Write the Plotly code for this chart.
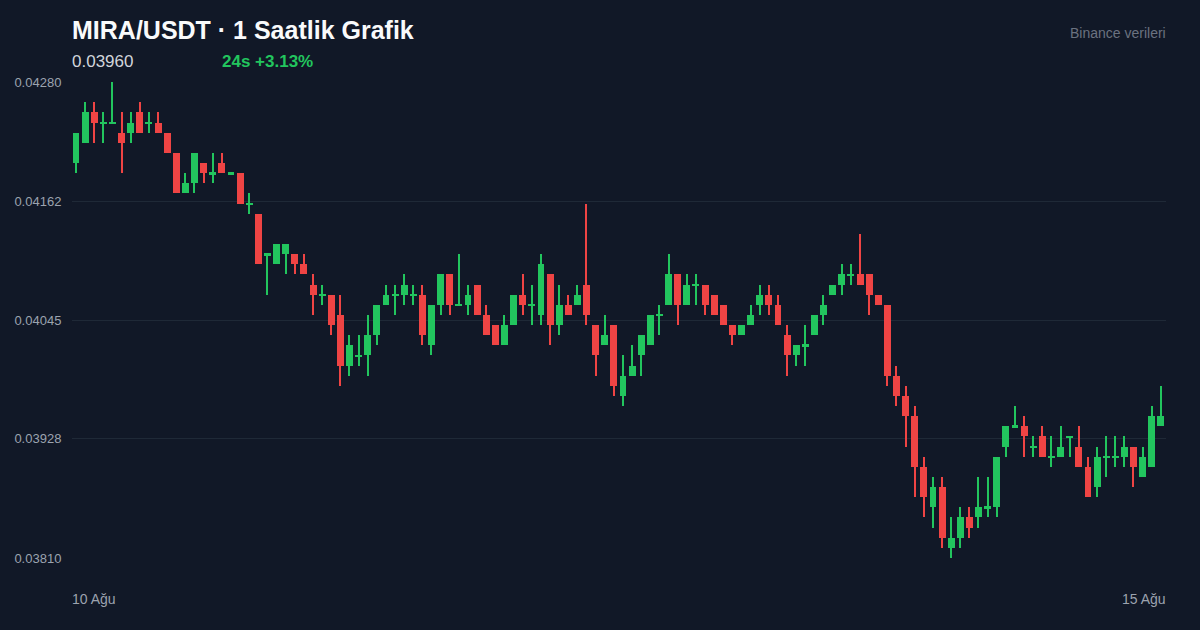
import pandas as pd
import plotly.graph_objects as go

# ---- data (1h candles, MIRA/USDT) ----
opens = [0.0420, 0.0422, 0.0425, 0.0424, 0.0424, 0.0423, 0.0423, 0.0425, 0.0424, 0.0424,
         0.0423, 0.0421, 0.0417, 0.0418, 0.0420, 0.0419, 0.0420, 0.0419, 0.0419, 0.0416,
         0.0415, 0.0411, 0.0410, 0.0411, 0.0411, 0.0410, 0.0408, 0.0407, 0.0407, 0.0405,
         0.0400, 0.0401, 0.0401, 0.0403, 0.0406, 0.0407, 0.0407, 0.0407, 0.0407, 0.0402,
         0.0406, 0.0409, 0.0406, 0.0406, 0.0408, 0.0405, 0.0404, 0.0402, 0.0404, 0.0407,
         0.0406, 0.0405, 0.0409, 0.0404, 0.0406, 0.0406, 0.0408, 0.0404, 0.0402, 0.0404,
         0.0397, 0.0399, 0.0401, 0.0402, 0.0405, 0.0406, 0.0409, 0.0406, 0.0408, 0.0408,
         0.0407, 0.0406, 0.0404, 0.0403, 0.0404, 0.0406, 0.0407, 0.0406, 0.0403, 0.0401,
         0.0402, 0.0403, 0.0405, 0.0407, 0.0408, 0.0409, 0.0409, 0.0409, 0.0407, 0.0406,
         0.0399, 0.0397, 0.0395, 0.0390, 0.0386, 0.0388, 0.0382, 0.0383, 0.0385, 0.0385,
         0.0386, 0.0386, 0.0392, 0.0394, 0.0394, 0.0392, 0.0393, 0.0391, 0.0391, 0.0393,
         0.0392, 0.0390, 0.0388, 0.0391, 0.0391, 0.0391, 0.0392, 0.0389, 0.0390, 0.0394]
highs = [0.0423, 0.0426, 0.0426, 0.0425, 0.0428, 0.0425, 0.0425, 0.0426, 0.0425, 0.0425,
         0.0423, 0.0421, 0.0419, 0.0421, 0.0420, 0.0421, 0.0421, 0.0419, 0.0419, 0.0417,
         0.0415, 0.0411, 0.0412, 0.0412, 0.0411, 0.0411, 0.0409, 0.0408, 0.0407, 0.0407,
         0.0403, 0.0403, 0.0405, 0.0406, 0.0408, 0.0408, 0.0409, 0.0408, 0.0408, 0.0406,
         0.0409, 0.0409, 0.0411, 0.0408, 0.0408, 0.0406, 0.0404, 0.0405, 0.0407, 0.0409,
         0.0408, 0.0411, 0.0409, 0.0408, 0.0407, 0.0408, 0.0416, 0.0404, 0.0405, 0.0404,
         0.0401, 0.0402, 0.0403, 0.0405, 0.0406, 0.0411, 0.0409, 0.0409, 0.0409, 0.0408,
         0.0407, 0.0406, 0.0404, 0.0404, 0.0406, 0.0408, 0.0408, 0.0407, 0.0404, 0.0402,
         0.0404, 0.0405, 0.0407, 0.0408, 0.0410, 0.0410, 0.0413, 0.0409, 0.0407, 0.0406,
         0.0400, 0.0398, 0.0396, 0.0391, 0.0389, 0.0389, 0.0385, 0.0386, 0.0386, 0.0389,
         0.0389, 0.0391, 0.0394, 0.0396, 0.0395, 0.0393, 0.0394, 0.0393, 0.0394, 0.0393,
         0.0394, 0.0391, 0.0392, 0.0393, 0.0393, 0.0393, 0.0392, 0.0392, 0.0396, 0.0398]
lows = [0.0419, 0.0422, 0.0422, 0.0422, 0.0424, 0.0419, 0.0422, 0.0423, 0.0423, 0.0423,
        0.0421, 0.0417, 0.0417, 0.0417, 0.0418, 0.0418, 0.0419, 0.0419, 0.0416, 0.0415,
        0.0410, 0.0407, 0.0410, 0.0409, 0.0409, 0.0409, 0.0405, 0.0406, 0.0403, 0.0398,
        0.0399, 0.0400, 0.0399, 0.0402, 0.0406, 0.0405, 0.0406, 0.0406, 0.0402, 0.0401,
        0.0405, 0.0405, 0.0406, 0.0405, 0.0405, 0.0403, 0.0402, 0.0402, 0.0404, 0.0405,
        0.0404, 0.0404, 0.0402, 0.0403, 0.0405, 0.0406, 0.0404, 0.0399, 0.0402, 0.0397,
        0.0396, 0.0399, 0.0399, 0.0402, 0.0403, 0.0406, 0.0404, 0.0406, 0.0406, 0.0405,
        0.0405, 0.0404, 0.0402, 0.0403, 0.0404, 0.0405, 0.0405, 0.0404, 0.0399, 0.0400,
        0.0400, 0.0403, 0.0404, 0.0407, 0.0407, 0.0408, 0.0408, 0.0405, 0.0406, 0.0398,
        0.0396, 0.0392, 0.0387, 0.0385, 0.0384, 0.0382, 0.0381, 0.0382, 0.0383, 0.0384,
        0.0385, 0.0385, 0.0391, 0.0394, 0.0391, 0.0391, 0.0391, 0.0390, 0.0391, 0.0391,
        0.0390, 0.0387, 0.0387, 0.0389, 0.0390, 0.0390, 0.0388, 0.0389, 0.0390, 0.0394]
closes = [0.0423, 0.0425, 0.0424, 0.0424, 0.0424, 0.0422, 0.0424, 0.0423, 0.0424, 0.0423,
          0.0421, 0.0417, 0.0418, 0.0421, 0.0419, 0.0419, 0.0419, 0.0419, 0.0416, 0.0416,
          0.0410, 0.0411, 0.0412, 0.0412, 0.0410, 0.0409, 0.0407, 0.0407, 0.0404, 0.0400,
          0.0402, 0.0401, 0.0403, 0.0406, 0.0407, 0.0407, 0.0408, 0.0407, 0.0403, 0.0406,
          0.0409, 0.0406, 0.0406, 0.0407, 0.0405, 0.0403, 0.0402, 0.0404, 0.0407, 0.0406,
          0.0406, 0.0410, 0.0404, 0.0406, 0.0405, 0.0407, 0.0405, 0.0401, 0.0403, 0.0398,
          0.0399, 0.0400, 0.0403, 0.0405, 0.0405, 0.0409, 0.0406, 0.0408, 0.0408, 0.0406,
          0.0405, 0.0404, 0.0403, 0.0404, 0.0405, 0.0407, 0.0406, 0.0404, 0.0401, 0.0402,
          0.0402, 0.0405, 0.0406, 0.0408, 0.0409, 0.0409, 0.0408, 0.0407, 0.0406, 0.0399,
          0.0397, 0.0395, 0.0390, 0.0387, 0.0388, 0.0383, 0.0383, 0.0385, 0.0384, 0.0386,
          0.0386, 0.0391, 0.0394, 0.0394, 0.0393, 0.0392, 0.0391, 0.0391, 0.0392, 0.0393,
          0.0390, 0.0387, 0.0391, 0.0391, 0.0391, 0.0392, 0.0390, 0.0391, 0.0395, 0.0395]

start_time = "2025-08-10 00:00"
y_ticks = [0.03810, 0.03928, 0.04045, 0.04162, 0.04280]
y_tick_labels = ["0.03810", "0.03928", "0.04045", "0.04162", "0.04280"]
x_labels = ["10 Ağu", "15 Ağu"]
title_text = "MIRA/USDT · 1 Saatlik Grafik"
last_price_text = "0.03960"
change_text = "24s +3.13%"
source_text = "Binance verileri"

# ---- styling ----
BG = "#111827"
GRID = "#1f2937"
TXT = "#9ca3af"
UP = "#22c55e"
DOWN = "#ef4444"
FONT = "Liberation Sans, Arial, sans-serif"

times = pd.date_range(start_time, periods=len(opens), freq="h")
HOUR_MS = 3600 * 1000
colors = [UP if c >= o else DOWN for o, c in zip(opens, closes)]

min_body = 0.000018
body_base, body_h = [], []
for o, c in zip(opens, closes):
    lo, hi = min(o, c), max(o, c)
    if hi - lo < min_body:
        mid = (hi + lo) / 2
        body_base.append(mid - min_body / 2)
        body_h.append(min_body)
    else:
        body_base.append(lo)
        body_h.append(hi - lo)

fig = go.Figure()
fig.add_trace(go.Bar(
    x=times, y=[h - l for h, l in zip(highs, lows)], base=lows,
    width=0.13 * HOUR_MS, marker=dict(color=colors, line=dict(width=0)),
    hoverinfo="skip", showlegend=False))
fig.add_trace(go.Bar(
    x=times, y=body_h, base=body_base,
    width=0.76 * HOUR_MS, marker=dict(color=colors, line=dict(width=0), cornerradius=1),
    customdata=list(zip(opens, highs, lows, closes)),
    hovertemplate="O %{customdata[0]}<br>H %{customdata[1]}<br>L %{customdata[2]}<br>C %{customdata[3]}<extra></extra>",
    showlegend=False))

x0 = times[0] - pd.Timedelta(minutes=0.44 * 60)
x1 = times[-1] + pd.Timedelta(minutes=0.56 * 60)

fig.update_layout(
    width=1200, height=630,
    margin=dict(l=72, r=34, t=82, b=72),
    paper_bgcolor=BG, plot_bgcolor=BG,
    font=dict(family=FONT, color=TXT),
    barmode="overlay", bargap=0,
    xaxis=dict(range=[x0, x1], showgrid=False, zeroline=False, showticklabels=False,
               showline=False, fixedrange=True),
    yaxis=dict(range=[y_ticks[0], y_ticks[-1]], tickvals=y_ticks, ticktext=y_tick_labels,
               showgrid=True, gridcolor=GRID, gridwidth=1, zeroline=False, showline=False,
               ticks="outside", ticklen=7, tickcolor="rgba(0,0,0,0)",
               tickfont=dict(size=13, color=TXT, family=FONT)),
    annotations=[
        dict(text=f"<b>{title_text}</b>", xref="paper", yref="paper", x=0, y=1.109,
             xanchor="left", yanchor="middle", showarrow=False,
             font=dict(size=25, color="#f9fafb", family=FONT), xshift=-2),
        dict(text=last_price_text, xref="paper", yref="paper", x=0, y=1.044,
             xanchor="left", yanchor="middle", showarrow=False,
             font=dict(size=17, color="#d1d5db", family=FONT), xshift=-2),
        dict(text=f"<b>{change_text}</b>", xref="paper", yref="paper", x=0.1371, y=1.044,
             xanchor="left", yanchor="middle", showarrow=False,
             font=dict(size=17, color=UP, family=FONT), xshift=-2),
        dict(text=source_text, xref="paper", yref="paper", x=1, y=1.103,
             xanchor="right", yanchor="middle", showarrow=False,
             font=dict(size=14, color="#6b7280", family=FONT), xshift=2),
        dict(text=x_labels[0], xref="paper", yref="paper", x=0, y=-0.0861,
             xanchor="left", yanchor="middle", showarrow=False,
             font=dict(size=14, color=TXT, family=FONT), xshift=-2),
        dict(text=x_labels[1], xref="paper", yref="paper", x=1, y=-0.0861,
             xanchor="right", yanchor="middle", showarrow=False,
             font=dict(size=14, color=TXT, family=FONT), xshift=2),
    ],
)

fig.write_html(
    "out.html",
    config={"displayModeBar": False},
    post_script="document.body.style.margin='0';document.body.style.background='#111827';document.documentElement.style.overflow='hidden';",
)
